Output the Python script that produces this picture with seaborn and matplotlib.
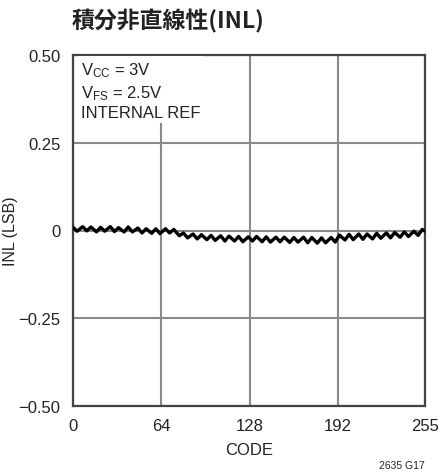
import matplotlib
matplotlib.use("Agg")
import matplotlib.pyplot as plt
import seaborn as sns
import pandas as pd

codes = [0, 3, 7, 10, 13, 17, 20, 23, 27, 30, 33, 37, 40, 43, 47, 50, 53, 57, 60, 63,
         67, 70, 73, 77, 80, 83, 87, 90, 93, 97, 100, 103, 107, 110, 113, 117, 120, 123,
         127, 130, 133, 137, 140, 143, 147, 150, 153, 157, 160, 163, 167, 170, 173, 177,
         180, 183, 187, 190, 193, 197, 200, 203, 207, 210, 213, 217, 220, 223, 227, 230,
         233, 237, 240, 243, 247, 250, 253, 255]
inl = [0.009, -0.002, 0.011, -0.001, 0.010, -0.004, 0.009, -0.002, 0.011, -0.003,
       0.008, -0.004, 0.010, -0.004, 0.007, -0.007, 0.005, -0.008, 0.005, -0.009,
       0.005, -0.007, 0.003, -0.015, -0.007, -0.021, -0.010, -0.024, -0.012, -0.026,
       -0.014, -0.028, -0.015, -0.030, -0.016, -0.030, -0.017, -0.032, -0.018, -0.030,
       -0.017, -0.032, -0.018, -0.033, -0.019, -0.032, -0.019, -0.034, -0.020, -0.033,
       -0.019, -0.035, -0.020, -0.036, -0.021, -0.035, -0.020, -0.033, -0.013, -0.027,
       -0.011, -0.026, -0.010, -0.025, -0.010, -0.024, -0.008, -0.022, -0.007, -0.021,
       -0.006, -0.019, -0.004, -0.017, -0.002, -0.014, 0.003, -0.002]

x_ticks = [0, 64, 128, 192, 255]
x_ticklabels = ["0", "64", "128", "192", "255"]
y_ticks = [-0.5, -0.25, 0, 0.25, 0.5]
y_ticklabels = ["\u22120.50", "\u22120.25", "0", "0.25", "0.50"]

title = "積分非直線性(INL)"
x_label = "CODE"
y_label = "INL (LSB)"
notes = ["V$_{CC}$ = 3V", "V$_{FS}$ = 2.5V", "INTERNAL REF"]
fig_id = "2635 G17"

sns.set_style("white")
plt.rcParams['font.family'] = ['Liberation Sans', 'Noto Sans CJK JP', 'DejaVu Sans']
plt.rcParams['mathtext.default'] = 'regular'

df = pd.DataFrame({"code": codes, "inl": inl})

fig = plt.figure(figsize=(4.39, 4.77), dpi=100)
ax = fig.add_axes([73/439, 1-407/477, (425-73)/439, (407-56)/477])

ax.set_xlim(0, 255)
ax.set_ylim(-0.5, 0.5)
ax.set_xticks(x_ticks)
ax.set_xticklabels(x_ticklabels)
ax.set_yticks(y_ticks)
ax.set_yticklabels(y_ticklabels)
ax.grid(True, color="#8a8a8a", linewidth=1.5, zorder=0)
ax.set_axisbelow(True)
ax.tick_params(axis="y", length=0, labelsize=12, colors="#222222", pad=9)
ax.tick_params(axis="x", length=0, labelsize=12, colors="#222222", pad=9)

sns.lineplot(data=df, x="code", y="inl", ax=ax, color="black", linewidth=2.4, zorder=3)

for s in ax.spines.values():
    s.set_color("#444444")
    s.set_linewidth(1.6)

ax.set_xlabel(x_label, fontsize=12, color="#222222", labelpad=6)
ax.set_ylabel(y_label, fontsize=11.5, color="#222222")
ax.yaxis.set_label_coords((18 - 73) / 352, 0.5)

ax.text(0.022, 0.985, "\n".join(notes), transform=ax.transAxes, va="top", ha="left",
        fontsize=12, color="#222222", linespacing=1.3,
        bbox=dict(facecolor="white", edgecolor="none", pad=2), zorder=4)

fig.text(72/439, 1-21/477, title, ha="left", va="center", fontsize=16.5, fontweight="bold",
         family=['Noto Sans CJK JP', 'DejaVu Sans'], color="#222222")
fig.text(425/439, 1-466/477, fig_id, ha="right", va="center", fontsize=7.5, color="#222222")

fig.savefig("out.png", dpi=100)
